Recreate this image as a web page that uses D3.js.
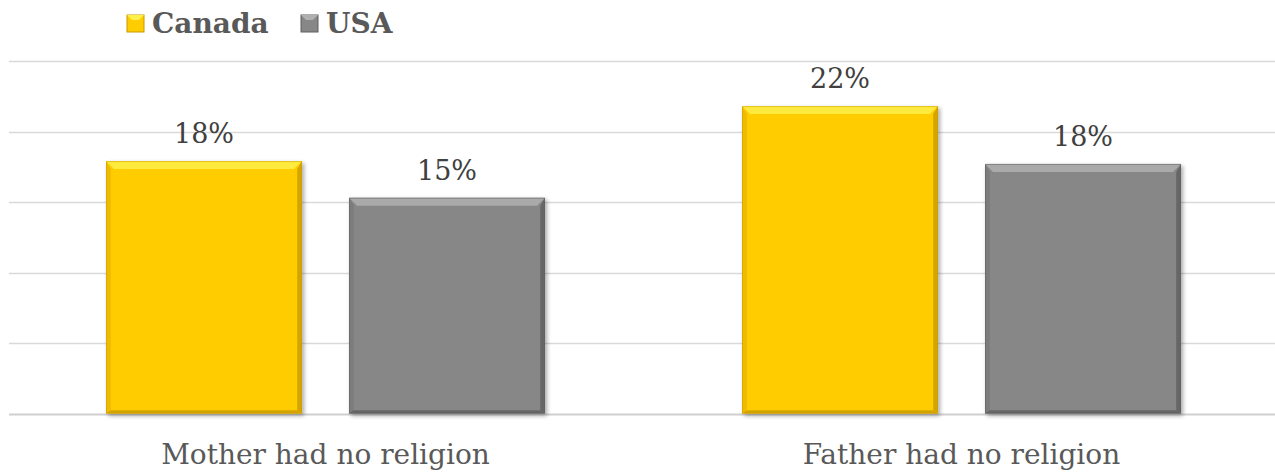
<!DOCTYPE html>
<html><head><meta charset="utf-8">
<script src="https://cdn.jsdelivr.net/npm/d3@7"></script>
<style>body{margin:0;background:#fff}svg{display:block}</style>
</head><body><svg id="c" width="1275" height="472"></svg>
<script>
const categories = ["Mother had no religion", "Father had no religion"];
const seriesNames = ["Canada", "USA"];
const canada = [17.9, 21.8];
const usa = [15.3, 17.7];
const yTicks = [0, 5, 10, 15, 20, 25];

const svg = d3.select("#c");
const W = 1275, H = 472;
const x0 = d3.scaleBand().domain(categories).range([7.5, 1279.5]).paddingInner(0).paddingOuter(0);
const x1 = d3.scaleBand().domain(seriesNames).range([98.5, x0.bandwidth() - 98.5]).paddingInner(0.1934).paddingOuter(0);
const y = d3.scaleLinear().domain([0, 25]).range([413.5, 61]);

const font = "'DejaVu Serif', Georgia, serif";
const colors = {Canada: {base:"#FFCC00", light:"#FFF04A", dark:"#C99A00", side:"#E6B400"},
                USA: {base:"#878787", light:"#B0B0B0", dark:"#5E5E5E", side:"#767676"}};

const defs = svg.append("defs");
const f = defs.append("filter").attr("id","sh").attr("x","-10%").attr("y","-10%").attr("width","130%").attr("height","130%");
f.append("feGaussianBlur").attr("in","SourceAlpha").attr("stdDeviation",2);
f.append("feOffset").attr("dx",1.5).attr("dy",1.5).attr("result","b");
f.append("feComponentTransfer").append("feFuncA").attr("type","linear").attr("slope",0.35);
const m = f.append("feMerge"); m.append("feMergeNode"); m.append("feMergeNode").attr("in","SourceGraphic");

// gridlines
svg.append("g").selectAll("line").data(yTicks).join("line")
  .attr("x1", 9).attr("x2", W).attr("y1", d => Math.round(y(d)) + 0.5).attr("y2", d => Math.round(y(d)) + 0.5)
  .attr("stroke", d => d === 0 ? "#d0d0d0" : "#d9d9d9").attr("stroke-width", d => d === 0 ? 2 : 1.5);

const data = [];
categories.forEach((c, i) => {
  data.push({cat: c, s: "Canada", v: canada[i]});
  data.push({cat: c, s: "USA", v: usa[i]});
});

const g = svg.append("g");
const bev = 8;
data.forEach(d => {
  const bx = x0(d.cat) + x1(d.s), bw = x1.bandwidth();
  const by = y(d.v), bb = y(0), bh = bb - by;
  const col = colors[d.s];
  const bg = g.append("g").attr("filter","url(#sh)");
  bg.append("rect").attr("x",bx).attr("y",by).attr("width",bw).attr("height",bh).attr("fill",col.base);
  bg.append("polygon").attr("points",[[bx,by],[bx+bw,by],[bx+bw-bev,by+bev],[bx+bev,by+bev]].join(" ")).attr("fill",col.light).attr("opacity",0.85);
  bg.append("polygon").attr("points",[[bx,by],[bx+bev*0.6,by+bev],[bx+bev*0.6,bb-bev*0.4],[bx,bb]].join(" ")).attr("fill",col.side).attr("opacity",0.7);
  bg.append("polygon").attr("points",[[bx+bw,by],[bx+bw-bev*0.6,by+bev],[bx+bw-bev*0.6,bb-bev*0.4],[bx+bw,bb]].join(" ")).attr("fill",col.dark).attr("opacity",0.8);
  bg.append("polygon").attr("points",[[bx,bb],[bx+bev*0.6,bb-bev*0.4],[bx+bw-bev*0.6,bb-bev*0.4],[bx+bw,bb]].join(" ")).attr("fill",col.dark).attr("opacity",0.8);
  bg.append("rect").attr("x",bx+0.5).attr("y",by+0.5).attr("width",bw-1).attr("height",bh-1).attr("fill","none").attr("stroke",col.dark).attr("stroke-opacity",0.5);
  g.append("text").attr("x", bx + bw/2).attr("y", by - 18).attr("text-anchor","middle")
    .attr("font-family", font).attr("font-size", 27).attr("fill","#404040")
    .text(Math.round(d.v) + "%");
});

svg.append("g").selectAll("text").data(categories).join("text")
  .attr("x", d => x0(d) + x0.bandwidth()/2).attr("y", 464).attr("text-anchor","middle")
  .attr("font-family", font).attr("font-size", 28).attr("fill","#595959").text(d => d);

const legX = [127, 301];
const lg = svg.append("g");
seriesNames.forEach((s, i) => {
  const col = colors[s];
  const lx = legX[i];
  lg.append("rect").attr("x", lx).attr("y", 15).attr("width", 17).attr("height", 17).attr("fill", col.base).attr("stroke", col.dark).attr("stroke-width",1);
  lg.append("polygon").attr("points",[[lx,15],[lx+17,15],[lx+12,20],[lx+5,20]].join(" ")).attr("fill",col.light);
  lg.append("text").attr("x", lx + 25).attr("y", 33).attr("font-family", font).attr("font-weight","bold")
    .attr("font-size", 28).attr("fill","#595959").text(s);
});
</script></body></html>
